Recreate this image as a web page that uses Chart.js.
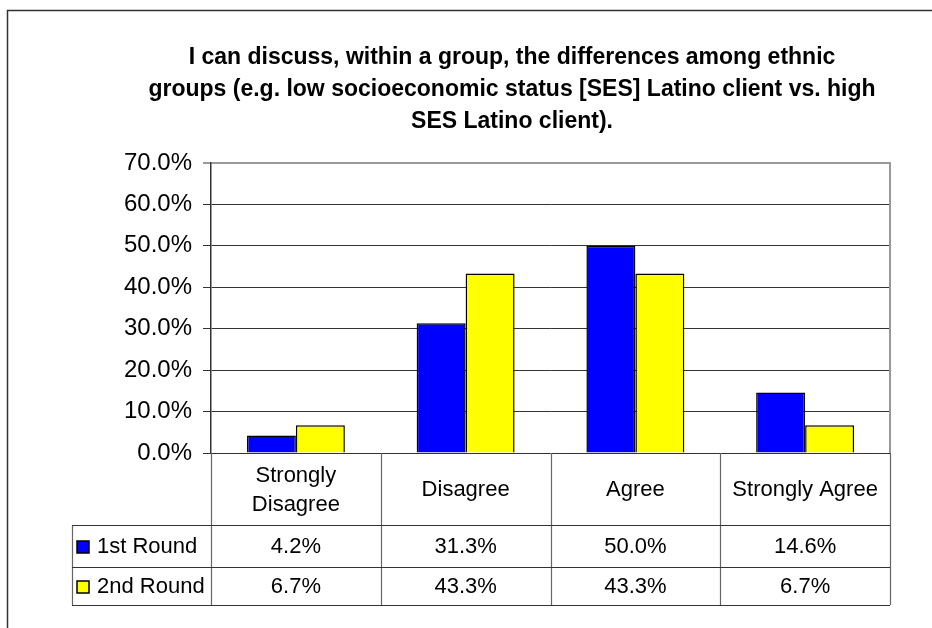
<!DOCTYPE html>
<html lang="en">
<head>
  <meta charset="UTF-8">
  <title>Ethnic Group Differences Survey</title>
  <script src="https://cdn.jsdelivr.net/npm/chart.js"></script>
  <style>
    html, body { margin: 0; padding: 0; background: #fff; }
    #wrap { width: 932px; height: 628px; }
  </style>
</head>
<body>
  <div id="wrap">
    <canvas id="surveyChart" width="932" height="628"></canvas>
  </div>
  <script>
    // answers, one per column of the table
    const categories = [['Strongly', 'Disagree'], ['Disagree'], ['Agree'], ['Strongly Agree']];
    const seriesNames = ['1st Round', '2nd Round'];
    const firstRound = [4.2, 31.3, 50.0, 14.6];
    const secondRound = [6.7, 43.3, 43.3, 6.7];
    const seriesColors = ['#0000ff', '#ffff00'];
    const yTicks = [0, 10, 20, 30, 40, 50, 60, 70];
    const titleLines = [
      'I can discuss, within a group, the differences among ethnic',
      'groups (e.g. low socioeconomic status [SES] Latino client vs. high',
      'SES Latino client).'
    ];

    const FONT = '"Liberation Sans", Arial, sans-serif';
    const pct = v => v.toFixed(1) + '%';

    // outer frame + title, drawn before the bars
    const framePlugin = {
      id: 'frame',
      beforeDraw(chart) {
        const ctx = chart.ctx;
        ctx.save();
        ctx.fillStyle = '#fff';
        ctx.fillRect(0, 0, chart.width, chart.height);
        ctx.strokeStyle = '#333';
        ctx.lineWidth = 1.5;
        ctx.beginPath();
        ctx.moveTo(7.5, chart.height);
        ctx.lineTo(7.5, 10.5);
        ctx.lineTo(chart.width, 10.5);
        ctx.stroke();

        ctx.fillStyle = '#000';
        ctx.font = 'bold 23px ' + FONT;
        ctx.textAlign = 'center';
        ctx.textBaseline = 'alphabetic';
        const baselines = [64, 96, 128];
        titleLines.forEach((line, i) => ctx.fillText(line, 512, baselines[i]));
        ctx.restore();
      }
    };

    // plot border on top/right and the data table under the axis
    const tablePlugin = {
      id: 'dataTable',
      afterDraw(chart) {
        const { ctx, chartArea } = chart;
        const x = chart.scales.x;
        const n = categories.length;
        const colW = x.width / n;
        const bottom = chartArea.bottom;
        const rows = [bottom + 72, bottom + 114, bottom + 152];
        const legendLeft = 72;
        const series = [firstRound, secondRound];

        ctx.save();
        // right border of the plot area
        ctx.strokeStyle = '#999';
        ctx.lineWidth = 2;
        ctx.beginPath();
        ctx.moveTo(chartArea.right, chartArea.top - 1);
        ctx.lineTo(chartArea.right, bottom);
        ctx.stroke();

        // vertical table lines
        ctx.strokeStyle = '#666';
        ctx.lineWidth = 1.2;
        ctx.beginPath();
        for (let i = 0; i <= n; i++) {
          const px = Math.round(x.left + i * colW) + 0.5;
          ctx.moveTo(px, bottom);
          ctx.lineTo(px, rows[2]);
        }
        ctx.moveTo(legendLeft + 0.5, rows[0]);
        ctx.lineTo(legendLeft + 0.5, rows[2]);
        ctx.stroke();

        // horizontal table lines
        ctx.strokeStyle = '#333';
        ctx.beginPath();
        rows.forEach(r => {
          ctx.moveTo(legendLeft, r + 0.5);
          ctx.lineTo(chartArea.right, r + 0.5);
        });
        ctx.stroke();

        ctx.fillStyle = '#000';
        ctx.font = '22px ' + FONT;
        ctx.textAlign = 'center';
        ctx.textBaseline = 'middle';

        // category headers
        categories.forEach((lines, i) => {
          const cx = x.getPixelForValue(i);
          const mid = (bottom + rows[0]) / 2 + 1;
          const lh = 29;
          lines.forEach((t, j) => {
            ctx.fillText(t, cx, mid + (j - (lines.length - 1) / 2) * lh);
          });
        });

        // values and legend keys
        series.forEach((vals, s) => {
          const cy = (rows[s] + rows[s + 1]) / 2 + 1;
          vals.forEach((v, i) => ctx.fillText(pct(v), x.getPixelForValue(i), cy));

          ctx.fillStyle = seriesColors[s];
          ctx.fillRect(77, cy - 6, 12, 12);
          ctx.strokeStyle = '#000';
          ctx.lineWidth = 1.5;
          ctx.strokeRect(77, cy - 6, 12, 12);
          ctx.fillStyle = '#000';
          ctx.textAlign = 'left';
          ctx.fillText(seriesNames[s], 97, cy);
          ctx.textAlign = 'center';
        });
        ctx.restore();
      }
    };

    const chart = new Chart(document.getElementById('surveyChart'), {
      type: 'bar',
      data: {
        labels: categories,
        datasets: [
          {
            label: seriesNames[0],
            data: firstRound,
            backgroundColor: seriesColors[0],
            borderColor: '#000',
            borderWidth: 1.5
          },
          {
            label: seriesNames[1],
            data: secondRound,
            backgroundColor: seriesColors[1],
            borderColor: '#000',
            borderWidth: 1.5
          }
        ]
      },
      options: {
        responsive: false,
        animation: false,
        events: [],
        layout: { padding: { top: 163, left: 0, right: 42, bottom: 175 } },
        datasets: { bar: { categoryPercentage: 0.577, barPercentage: 1.0 } },
        plugins: {
          legend: { display: false },
          title: { display: false },
          tooltip: { enabled: false }
        },
        scales: {
          x: {
            display: false
          },
          y: {
            min: yTicks[0],
            max: yTicks[yTicks.length - 1],
            afterFit: scale => { scale.width = 211; },
            afterBuildTicks: scale => { scale.ticks = yTicks.map(v => ({ value: v })); },
            border: { color: '#333', width: 1.5 },
            grid: {
              color: c => (c.tick && c.tick.value === 70 ? '#999' : '#333'),
              lineWidth: c => (c.tick && c.tick.value === 70 ? 2 : 1),
              tickLength: 8
            },
            ticks: {
              color: '#000',
              padding: 11,
              font: { family: FONT, size: 24 },
              callback: v => pct(v)
            }
          }
        }
      },
      plugins: [framePlugin, tablePlugin]
    });
  </script>
</body>
</html>
